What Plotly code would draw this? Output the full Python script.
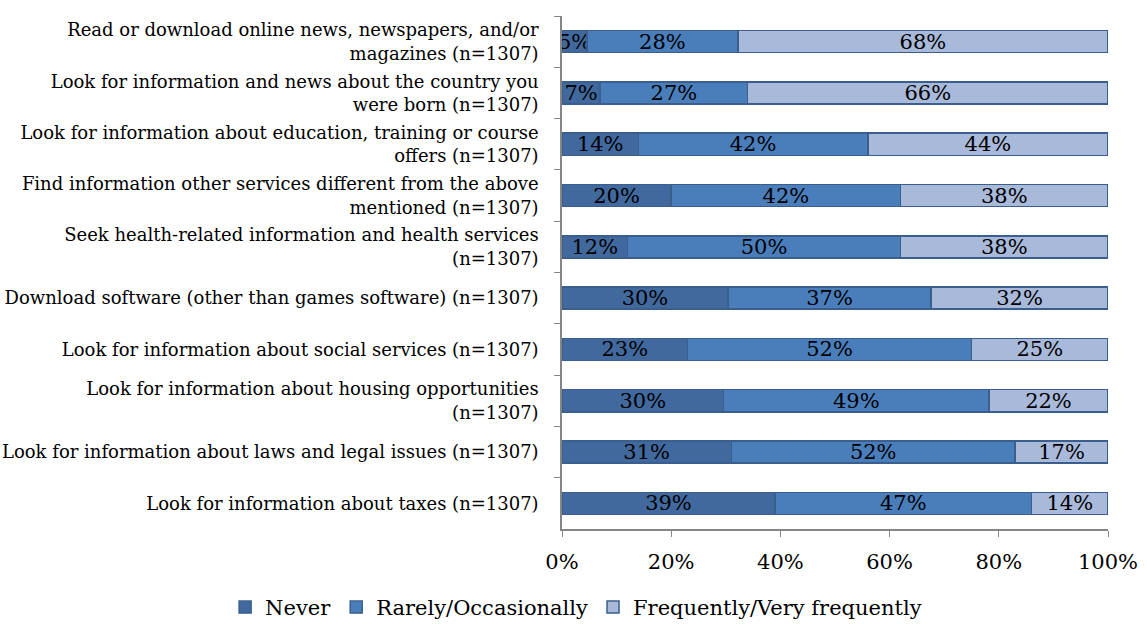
import plotly.graph_objects as go

# Survey items, listed top to bottom
categories = [
    "Read or download online news, newspapers, and/or<br>magazines (n=1307)",
    "Look for information and news about the country you<br>were born (n=1307)",
    "Look for information about education, training or course<br>offers (n=1307)",
    "Find information other services different from the above<br>mentioned (n=1307)",
    "Seek health-related information and health services<br>(n=1307)",
    "Download software (other than games software) (n=1307)",
    "Look for information about social services (n=1307)",
    "Look for information about housing opportunities<br>(n=1307)",
    "Look for information about laws and legal issues (n=1307)",
    "Look for information about taxes (n=1307)",
]

never = [4.6, 7, 14, 20, 12, 30.4, 23, 29.6, 31, 39]
rarely = [27.6, 27, 42, 42, 50, 37.2, 52, 48.6, 52, 47]
frequently = [67.8, 66, 44, 38, 38, 32.4, 25, 21.8, 17, 14]

series = [
    ("Never", never, "#41699E"),
    ("Rarely/Occasionally", rarely, "#4A7EBB"),
    ("Frequently/Very frequently", frequently, "#A9B9D9"),
]

FONT = "DejaVu Serif"

fig = go.Figure()
for name, vals, color in series:
    fig.add_trace(go.Bar(
        name=name,
        y=categories,
        x=vals,
        orientation="h",
        marker=dict(color=color, line=dict(color="#3A5F8E", width=1.5)),
        text=[f"{round(v):d}%" for v in vals],
        textposition="inside",
        insidetextanchor="middle",
        textangle=0,
        constraintext="none",
        textfont=dict(family=FONT, size=21, color="#000000"),
        hoverinfo="skip",
    ))

fig.update_layout(
    barmode="stack",
    bargap=0.57,
    width=1147,
    height=624,
    margin=dict(l=562, r=39, t=16, b=95, autoexpand=False),
    paper_bgcolor="white",
    plot_bgcolor="white",
    font=dict(family=FONT, size=18, color="#000000"),
    showlegend=True,
    legend=dict(
        orientation="h",
        x=-0.617, xanchor="left",
        y=-0.113, yanchor="top",
        font=dict(family=FONT, size=21),
        traceorder="normal",
        tracegroupgap=0,
    ),
    xaxis=dict(
        range=[0, 100],
        tickvals=[0, 20, 40, 60, 80, 100],
        ticktext=["0%", "20%", "40%", "60%", "80%", "100%"],
        showgrid=False,
        zeroline=False,
        showline=True,
        linecolor="#868686",
        linewidth=1.5,
        ticks="outside",
        ticklen=6,
        tickcolor="#868686",
        tickfont=dict(family=FONT, size=21),
        ticklabelstandoff=7,
    ),
    yaxis=dict(
        autorange="reversed",
        showgrid=False,
        showline=True,
        linecolor="#868686",
        linewidth=1.5,
        ticks="outside",
        tickson="boundaries",
        ticklen=6,
        tickcolor="#868686",
        tickfont=dict(family=FONT, size=18),
        ticklabelstandoff=18,
    ),
)

fig.write_html("out.html")
